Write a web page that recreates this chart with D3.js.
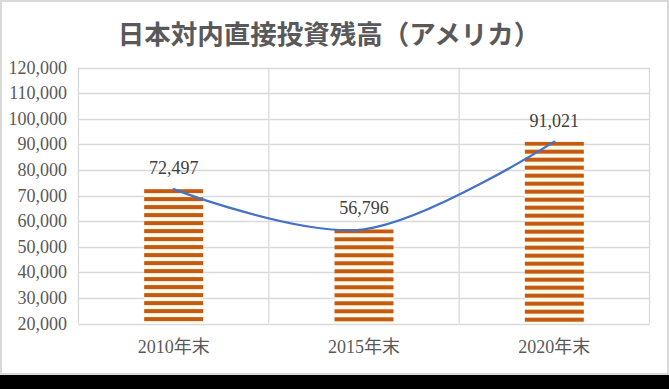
<!DOCTYPE html>
<html><head><meta charset="utf-8">
<script src="https://cdn.jsdelivr.net/npm/d3@7/dist/d3.min.js"></script>
<style>html,body{margin:0;padding:0;background:#000;}svg{display:block;}</style>
</head><body>
<script>
const categories = ["2010年末", "2015年末", "2020年末"];
const values = [72497, 56796, 91021];
const yTicks = [20000, 30000, 40000, 50000, 60000, 70000, 80000, 90000, 100000, 110000, 120000];
const title = "日本対内直接投資残高（アメリカ）";

const W = 669, H = 389;
const svg = d3.select("body").append("svg").attr("width", W).attr("height", H);
svg.append("rect").attr("x", 0).attr("y", 0).attr("width", W).attr("height", H).attr("fill", "#000");
svg.append("rect").attr("x", 1).attr("y", 1).attr("width", 667).attr("height", 373)
  .attr("fill", "#fff").attr("stroke", "#d9d9d9").attr("stroke-width", 2);

const plot = {l: 78.5, r: 649.5, t: 67.5, b: 323.5};
const x = d3.scaleBand().domain(categories).range([plot.l, plot.r]).padding(0);
const y = d3.scaleLinear().domain([20000, 120000]).range([plot.b, plot.t]);

// title
svg.append("text").attr("x", 329).attr("y", 44).attr("text-anchor", "middle")
  .attr("font-family", "'Noto Sans CJK JP', sans-serif").attr("font-weight", 700)
  .attr("font-size", 26.5).attr("fill", "#595959").text(title);

// horizontal gridlines
svg.append("g").selectAll("line").data(yTicks).join("line")
  .attr("x1", plot.l).attr("x2", plot.r)
  .attr("y1", d => Math.round(y(d)) + 0.5).attr("y2", d => Math.round(y(d)) + 0.5)
  .attr("stroke", "#d9d9d9").attr("stroke-width", 1.3);
// vertical gridlines at category boundaries
const bounds = categories.map(c => x(c)).concat([x(categories[categories.length - 1]) + x.bandwidth()]);
svg.append("g").selectAll("line").data(bounds).join("line")
  .attr("x1", d => d).attr("x2", d => d).attr("y1", plot.t).attr("y2", plot.b)
  .attr("stroke", "#d9d9d9").attr("stroke-width", 1.3);

// y tick labels
svg.append("g").selectAll("text").data(yTicks).join("text")
  .attr("x", 67).attr("y", d => y(d) + 6).attr("text-anchor", "end")
  .attr("font-family", "'Liberation Serif', 'Times New Roman', serif").attr("font-size", 18)
  .attr("fill", "#595959").text(d => d3.format(",")(d));

// x labels
svg.append("g").selectAll("text").data(categories).join("text")
  .attr("x", d => x(d) + x.bandwidth() / 2).attr("y", 353).attr("text-anchor", "middle")
  .attr("font-family", "'Liberation Serif', 'Noto Sans CJK JP', serif").attr("font-size", 18)
  .attr("fill", "#595959").text(d => d);

// patterns
const defs = svg.append("defs");
const barW = x.bandwidth() * 0.31;
values.forEach((v, i) => {
  const p = defs.append("pattern").attr("id", "pat" + i).attr("patternUnits", "userSpaceOnUse")
    .attr("x", 0).attr("y", y(v)).attr("width", 8).attr("height", 8);
  p.append("rect").attr("width", 8).attr("height", 8).attr("fill", "#fffaea");
  p.append("rect").attr("width", 8).attr("height", 4).attr("fill", "#c55a11");
});

svg.append("g").selectAll("rect").data(values).join("rect")
  .attr("x", (d, i) => x(categories[i]) + (x.bandwidth() - barW) / 2)
  .attr("y", d => y(d)).attr("width", barW).attr("height", d => y(20000) - y(d))
  .attr("fill", (d, i) => `url(#pat${i})`);

// smoothed line
const line = d3.line().x((d, i) => x(categories[i]) + x.bandwidth() / 2).y(d => y(d))
  .curve(d3.curveCardinal.tension(0));
svg.append("path").datum(values).attr("d", line).attr("fill", "none")
  .attr("stroke", "#4472c4").attr("stroke-width", 2.2).attr("stroke-linecap", "round");

// data labels
svg.append("g").selectAll("text").data(values).join("text")
  .attr("x", (d, i) => x(categories[i]) + x.bandwidth() / 2).attr("y", d => y(d) - 15)
  .attr("text-anchor", "middle")
  .attr("font-family", "'Liberation Serif', 'Times New Roman', serif").attr("font-size", 18)
  .attr("fill", "#404040").text(d => d3.format(",")(d));
</script>
</body></html>
